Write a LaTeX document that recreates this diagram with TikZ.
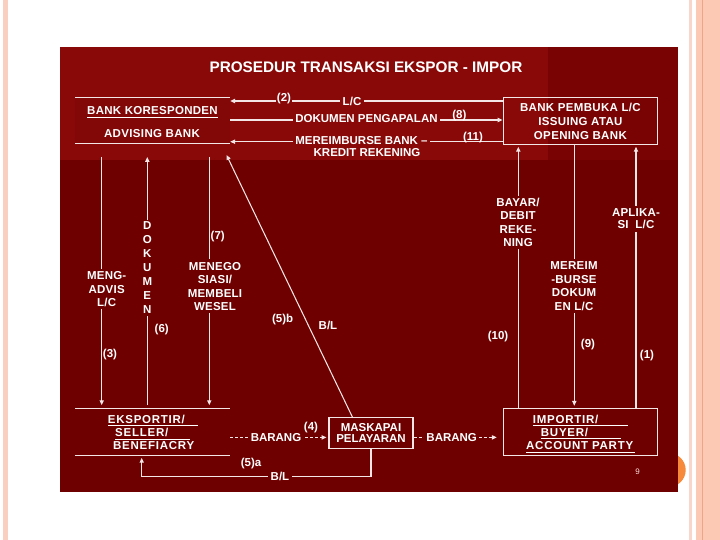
\documentclass[tikz,border=0pt]{standalone}
\usepackage{fontspec}
\setmainfont{Liberation Sans}
\usetikzlibrary{arrows.meta,calc}
\definecolor{bodyred}{HTML}{6E0000}
\definecolor{topred}{HTML}{890909}
\definecolor{topright}{HTML}{790303}
\definecolor{bankfill}{HTML}{820707}
\definecolor{linec}{HTML}{F4E6E6}
\definecolor{pinkbar}{HTML}{F9CFC0}
\definecolor{pinkthin}{HTML}{F9D6CA}
\definecolor{salmon}{HTML}{FBC9B4}
\definecolor{salmonline}{HTML}{EFA585}
\definecolor{orng}{HTML}{F68A3A}
\newsavebox{\ulsbox}
\newcommand{\ulfull}[1]{\sbox{\ulsbox}{#1}\leavevmode\rlap{\vrule height -1.8pt depth 2.9pt width \wd\ulsbox}\usebox{\ulsbox}}
\newcommand{\ulw}[2]{\sbox{\ulsbox}{#2}\leavevmode\rlap{\vrule height -1.8pt depth 2.9pt width #1}\usebox{\ulsbox}}
\tikzset{
  ln/.style={draw=linec, line width=1.05pt},
  arr/.style={ln, -{Triangle[length=4.8pt,width=4.2pt]}},
  darr/.style={arr, dash pattern=on 3pt off 2pt},
  lab/.style={text=white, inner sep=2.5pt, align=center,
    font=\bfseries\fontsize{11.5}{13.3}\selectfont\addfontfeature{LetterSpace=2}},
  labB/.style={lab, fill=bodyred},
  labT/.style={lab, fill=topred},
  num/.style={text=white, inner sep=1pt, font=\bfseries\fontsize{11.5}{13}\selectfont},
  boxt/.style={text=white, inner sep=0pt,
    font=\bfseries\fontsize{11.5}{13}\selectfont\addfontfeature{LetterSpace=6.5}},
}
\begin{document}
\begin{tikzpicture}[x=1pt,y=-1pt]
\useasboundingbox (0,0) rectangle (720,540);
% slide background
\fill[white] (0,0) rectangle (720,540);
\fill[pinkbar] (3.3,0) rectangle (8.3,540);
\fill[pinkthin] (689,0) rectangle (692,540);
\fill[salmon] (696,0) rectangle (720,540);
\draw[salmonline, line width=1pt] (702.5,0) -- (702.5,540);
\fill[orng] (668.7,470) circle (17pt);
% picture background
\fill[bodyred] (60,47.5) rectangle (678,491.5);
\fill[topred] (60,47.5) rectangle (548,160);
\fill[topright] (548,47.5) rectangle (678,160);

% title
\node[text=white, inner sep=0pt, anchor=base, font=\bfseries\fontsize{15.3}{18}\selectfont] (title) at (366,72.5) {PROSEDUR TRANSAKSI EKSPOR - IMPOR};

% boxes
\node[fill=bankfill, minimum width=155pt, minimum height=45.3pt, inner sep=0pt] (bankL) at (152.5,120.5) {};
\draw[ln] (bankL.north west) -- (bankL.north east);
\draw[ln] (bankL.south west) -- (bankL.south east);
\node[boxt, anchor=base, font=\bfseries\fontsize{11.5}{13}\selectfont\addfontfeature{LetterSpace=2.5}] (bk1) at (152.5,115) {\ulfull{BANK KORESPONDEN}};
\node[boxt, anchor=base, font=\bfseries\fontsize{11.5}{13}\selectfont\addfontfeature{LetterSpace=3}] (bk2) at (152,137.7) {ADVISING BANK};

\node[draw=linec, line width=1.05pt, minimum width=154.7pt, minimum height=46.6pt, inner sep=0pt, align=center, text=white,
  font=\bfseries\fontsize{11.5}{13.9}\selectfont\addfontfeature{LetterSpace=3}] (bankR) at (580.4,121) {BANK PEMBUKA L/C\\ISSUING ATAU\\OPENING BANK};

\node[minimum width=155pt, minimum height=47.4pt, inner sep=0pt] (expL) at (152.5,432) {};
\draw[ln] (expL.north west) -- (expL.north east);
\draw[ln] (expL.south west) -- (expL.south east);
\node[boxt, anchor=base west] (ex1) at (107.7,423) {\ulw{90pt}{EKSPORTIR/}};
\node[boxt, anchor=base west] (ex2) at (115,436.7) {\ulw{75pt}{SELLER/}};
\node[boxt, anchor=base west] (ex3) at (113,449.7) {BENEFIACRY};

\node[draw=linec, line width=1.05pt, minimum width=154.4pt, minimum height=47.4pt, inner sep=0pt] (imp) at (580.5,432) {};
\node[boxt, anchor=base west] (im1) at (532.7,423) {\ulw{95pt}{IMPORTIR/}};
\node[boxt, anchor=base west] (im2) at (540.7,436) {\ulw{80pt}{BUYER/}};
\node[boxt, anchor=base west] (im3) at (526,449.7) {\ulw{109pt}{ACCOUNT PARTY}};

\node[draw=linec, line width=1.05pt, minimum width=84pt, minimum height=30.6pt, inner sep=0pt, align=center, text=white,
  font=\bfseries\fontsize{11.5}{11.7}\selectfont] (ship) at (371,433) {MASKAPAI\\PELAYARAN};

% helper coordinates
\coordinate (yLC) at (0,101);
\coordinate (yDP) at (0,120);
\coordinate (yMB) at (0,141.7);
\coordinate (yB) at (0,437.4);
\coordinate (c3t) at (101.7,157);
\coordinate (c6t) at (147.3,157);
\coordinate (c7t) at (209.3,157);
\coordinate (c10) at (518.3,300);
\coordinate (c9) at (574.3,300);
\coordinate (c1) at (636,300);
\coordinate (dge) at (226.5,155);
\coordinate (blc) at (141.7,476.3);

% connectors
\draw[arr] (bankR.west |- yLC) -- (bankL.east |- yLC);
\draw[arr] (bankL.east |- yDP) -- (bankR.west |- yDP);
\draw[arr] (bankR.west |- yMB) -- (bankL.east |- yMB);

\draw[arr, shorten >=3pt] (c3t) -- (c3t |- expL.north);
\draw[arr] ([yshift=3pt]c6t |- expL.north) -- (c6t);
\draw[arr, shorten >=3pt] (c7t) -- (c7t |- expL.north);
\draw[arr] ([xshift=24pt]ship.north west) -- (dge);

\draw[arr, shorten >=2pt] (imp.north -| c10) -- (bankR.south -| c10);
\draw[arr, shorten >=2pt] (bankR.south -| c9) -- (imp.north -| c9);
\draw[arr, shorten >=2pt] (imp.north -| c1) -- (bankR.south -| c1);

\draw[darr, shorten >=2pt] (expL.east |- yB) -- (ship.west |- yB);
\draw[darr, shorten >=6pt] (ship.east |- yB) -- (imp.west |- yB);
\draw[arr, shorten >=2pt] (ship.south) |- (blc) -- (blc |- expL.south);

% labels on top connectors
\node[num, fill=topred] (n2) at (284,98.5) {(2)};
\node[labT] (lc) at (352,101) {L/C};
\node[labT, font=\bfseries\fontsize{11.5}{13}\selectfont] (dp) at (366.5,119) {DOKUMEN PENGAPALAN};
\node[num] (n8) at (459.3,115.5) {(8)};
\node[labT, font=\bfseries\fontsize{11.5}{13}\selectfont] (mb1) at (361.5,141) {MEREIMBURSE BANK –};
\node[lab, inner sep=0pt, font=\bfseries\fontsize{11.5}{13}\selectfont] (mb2) at (367,153) {KREDIT REKENING};
\node[num] (n11) at (473,137.3) {(11)};

% left verticals
\node[labB] (meng) at (106.7,289.3) {MENG-\\ADVIS\\L/C};
\node[labB, font=\bfseries\fontsize{11.5}{13.9}\selectfont] (dokv) at (147.3,267.7) {D\\O\\K\\U\\M\\E\\N};
\node[labB, font=\bfseries\fontsize{11.5}{13.5}\selectfont\addfontfeature{LetterSpace=2}] (menego) at (215,286.3) {MENEGO\\SIASI/\\MEMBELI\\WESEL};
\node[num] (n3) at (110,355) {(3)};
\node[num] (n6) at (161.7,330) {(6)};
\node[num] (n7) at (217.7,236.7) {(7)};
\node[num] (n5b) at (282.7,320) {(5)b};
\node[num] (blm) at (328,325) {B/L};

% right verticals
\node[labB] (bayar) at (518,222.3) {BAYAR/\\DEBIT\\REKE-\\NING};
\node[labB, font=\bfseries\fontsize{11.5}{13.5}\selectfont\addfontfeature{LetterSpace=2}] (mereim) at (574,286.3) {MEREIM\\-BURSE\\DOKUM\\EN L/C};
\node[labB, font=\bfseries\fontsize{11.5}{12.3}\selectfont\addfontfeature{LetterSpace=2}] (aplika) at (636,218.9) {APLIKA-\\SI~~L/C};
\node[num] (n10) at (498,336.7) {(10)};
\node[num] (n9) at (588,345) {(9)};
\node[num] (n1) at (647,355.7) {(1)};

% bottom labels
\node[labB, font=\bfseries\fontsize{11.5}{13}\selectfont] (bar1) at (276,437.3) {BARANG};
\node[num] (n4) at (311,428) {(4)};
\node[labB, font=\bfseries\fontsize{11.5}{13}\selectfont] (bar2) at (451.7,437.7) {BARANG};
\node[labB, font=\bfseries\fontsize{11.5}{13}\selectfont] (blb) at (280,476.3) {B/L};
\node[num] (n5a) at (251,464) {(5)a};
\node[text=white!88!red, inner sep=0pt, font=\fontsize{8}{9}\selectfont] (pg) at (637.7,471.7) {9};
\end{tikzpicture}
\end{document}
